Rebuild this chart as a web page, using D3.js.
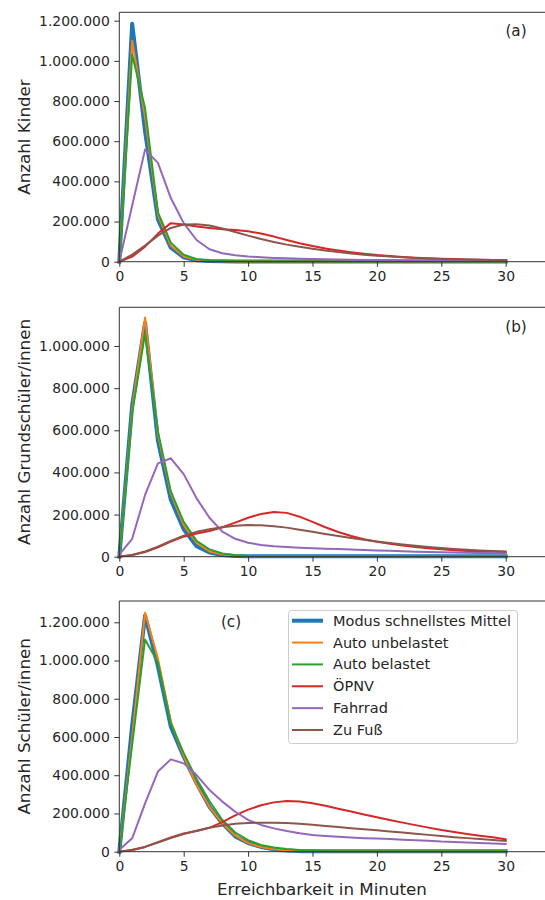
<!DOCTYPE html>
<html>
<head>
<meta charset="utf-8">
<script src="https://cdn.jsdelivr.net/npm/d3@7"></script>
<style>
  body { margin: 0; background: #fff; }
  svg { display: block; font-family: "DejaVu Sans", sans-serif; }
</style>
</head>
<body>
<svg id="chart" width="545" height="900"></svg>
<script>
// ---- Daten (Werte in Tausend)
const minutes = [0,1,2,3,4,5,6,7,8,9,10,11,12,13,14,15,16,17,18,19,20,21,22,23,24,25,26,27,28,29,30];
const seriesNames = ['Modus schnellstes Mittel', 'Auto unbelastet', 'Auto belastet', 'ÖPNV', 'Fahrrad', 'Zu Fuß'];
const seriesColors = ['#1f77b4', '#ff7f0e', '#2ca02c', '#d62728', '#9467bd', '#8c564b'];
const panelTags = ['(a)', '(b)', '(c)'];
const yLabels = ['Anzahl Kinder', 'Anzahl Grundschüler/innen', 'Anzahl Schüler/innen'];
const xTicks = [0, 5, 10, 15, 20, 25, 30];
const yTicksA = [0, 200000, 400000, 600000, 800000, 1000000, 1200000];
const yTicksB = [0, 200000, 400000, 600000, 800000, 1000000];
const yTicksC = [0, 200000, 400000, 600000, 800000, 1000000, 1200000];

// (a) Kinder
const modusA   = [0,1185,650,210,70,22,7,3,2,1,1,1,1,1,1,1,1,1,1,1,1,1,1,1,1,1,1,1,1,1,1];
const autoUnbA = [0,1100,720,232,80,26,9,4,2,1,1,1,1,1,1,1,1,1,1,1,1,1,1,1,1,1,1,1,1,1,1];
const autoBelA = [0,1030,765,245,95,35,12,5,3,2,1,1,1,1,1,1,1,1,1,1,1,1,1,1,1,1,1,1,1,1,1];
const oepnvA   = [0,25,75,140,192,185,175,168,162,158,152,140,125,108,92,78,66,56,47,40,33,28,24,20,17,15,13,11,10,9,8];
const fahrradA = [0,280,558,492,317,192,108,62,42,32,26,22,19,17,15,13,12,11,10,9,8,8,7,7,6,6,5,5,5,4,4];
const fussA    = [0,35,80,130,168,185,187,180,165,148,130,113,98,85,74,65,56,48,41,35,30,26,22,19,16,14,12,11,10,9,8];

// (b) Grundschüler/innen
const modusB   = [0,720,1110,550,270,130,50,20,8,3,2,2,2,2,2,2,2,2,2,2,2,2,2,2,2,2,2,2,2,2,2];
const autoUnbB = [0,700,1135,580,300,150,65,25,10,4,2,2,2,2,2,2,2,2,2,2,2,2,2,2,2,2,2,2,2,2,2];
const autoBelB = [0,680,1060,595,310,165,75,35,15,7,3,2,2,2,2,2,2,2,2,2,2,2,2,2,2,2,2,2,2,2,2];
const oepnvB   = [0,8,22,45,72,95,110,122,140,162,185,203,212,208,190,165,140,117,98,83,71,61,53,46,40,35,31,27,24,22,20];
const fahrradB = [10,85,293,443,467,392,277,185,119,85,66,56,50,46,43,40,38,36,34,32,30,28,26,24,22,21,20,19,18,17,16];
const fussB    = [0,8,25,48,75,100,118,130,140,147,150,149,145,138,128,118,108,98,89,80,72,65,58,52,46,41,37,33,30,27,25];

// (c) Schüler/innen
const modusC   = [0,660,1235,970,654,497,358,235,148,80,45,25,12,6,3,2,2,2,2,2,2,2,2,2,2,2,2,2,2,2,2];
const autoUnbC = [0,600,1250,1010,680,500,350,235,148,85,45,25,13,7,3,2,2,2,2,2,2,2,2,2,2,2,2,2,2,2,2];
const autoBelC = [0,560,1110,990,672,515,380,265,166,100,60,35,22,14,9,6,4,3,3,3,3,3,3,3,3,3,3,3,3,3,3];
const oepnvC   = [0,10,25,50,75,95,108,125,155,190,220,243,258,265,262,253,240,225,210,195,180,166,152,139,126,113,103,93,84,75,65];
const fahrradC = [10,70,253,419,483,462,401,323,262,209,166,140,122,108,96,87,82,78,74,71,69,66,63,60,57,53,51,48,46,43,41];
const fussC    = [0,8,25,48,72,93,110,125,137,146,150,152,152,150,146,141,135,129,123,117,112,106,100,94,88,82,76,71,66,61,56];

const panelData = [
  [modusA, autoUnbA, autoBelA, oepnvA, fahrradA, fussA],
  [modusB, autoUnbB, autoBelB, oepnvB, fahrradB, fussB],
  [modusC, autoUnbC, autoBelC, oepnvC, fahrradC, fussC]
];
const panelTicks = [yTicksA, yTicksB, yTicksC];

// ---- Layout
const xLeft = 119.3, x30 = 505.7, frameRight = 547;
const layout = [
  { top: 12.3,  bottom: 261.7, ymax: 1241800, tagX: 516, tagY: 31 },
  { top: 307.3, bottom: 556.7, ymax: 1183700, tagX: 516, tagY: 327 },
  { top: 601,   bottom: 851.7, ymax: 1311400, tagX: 231, tagY: 622 }
];
const textColor = '#262626';
const tickFont = 13.9, labelFont = 16.7, legendFont = 14.5, tagFont = 15.2;

const svg = d3.select('#chart');
const fmt = d => d3.format(',')(d).replace(/,/g, '.');

const x = d3.scaleLinear().domain([0, 30]).range([xLeft, x30]);

layout.forEach((p, i) => {
  const y = d3.scaleLinear().domain([0, p.ymax]).range([p.bottom, p.top]);
  const g = svg.append('g');

  // ---- Linien
  const line = d3.line()
    .x((d, k) => x(minutes[k]))
    .y(d => y(d * 1000));

  panelData[i].forEach((vals, s) => {
    g.append('path')
      .datum(vals)
      .attr('d', line)
      .attr('fill', 'none')
      .attr('stroke', seriesColors[s])
      .attr('stroke-width', s === 0 ? 4 : 2)
      .attr('stroke-linejoin', 'round')
      .attr('stroke-linecap', 'square');
  });

  // ---- Rahmen
  g.append('path')
    .attr('d', `M${frameRight},${p.top}H${xLeft}V${p.bottom}H${frameRight}`)
    .attr('fill', 'none')
    .attr('stroke', '#333')
    .attr('stroke-width', 1);

  // ---- Achsen
  const ax = g.append('g')
    .attr('transform', `translate(0,${p.bottom})`)
    .call(d3.axisBottom(x).tickValues(xTicks).tickSize(5).tickPadding(4.5));
  const ay = g.append('g')
    .attr('transform', `translate(${xLeft},0)`)
    .call(d3.axisLeft(y).tickValues(panelTicks[i]).tickFormat(fmt).tickSize(5).tickPadding(4.5));

  [ax, ay].forEach(a => {
    a.select('.domain').remove();
    a.selectAll('line').attr('stroke', '#333');
    a.selectAll('text')
      .attr('fill', textColor)
      .style('font-size', tickFont + 'px')
      .style('font-family', '"DejaVu Sans", sans-serif');
  });

  g.append('text')
    .attr('transform', `translate(24.5,${(p.top + p.bottom) / 2}) rotate(-90)`)
    .attr('text-anchor', 'middle')
    .attr('dy', '0.35em')
    .attr('fill', textColor)
    .style('font-size', labelFont + 'px')
    .text(yLabels[i]);

  g.append('text')
    .attr('x', p.tagX)
    .attr('y', p.tagY)
    .attr('text-anchor', 'middle')
    .attr('dy', '0.35em')
    .attr('fill', textColor)
    .style('font-size', tagFont + 'px')
    .text(panelTags[i]);
});

svg.append('text')
  .attr('x', 322)
  .attr('y', 889)
  .attr('text-anchor', 'middle')
  .attr('dy', '0.35em')
  .attr('fill', textColor)
  .style('font-size', labelFont + 'px')
  .text('Erreichbarkeit in Minuten');

// ---- Legende
const leg = svg.append('g');
leg.append('rect')
  .attr('x', 288.5).attr('y', 610.5)
  .attr('width', 229).attr('height', 133)
  .attr('rx', 3)
  .attr('fill', 'white').attr('fill-opacity', 0.8)
  .attr('stroke', '#ccc');

seriesNames.forEach((name, s) => {
  const cy = 620.7 + s * 21.86;
  leg.append('line')
    .attr('x1', 292).attr('x2', 323)
    .attr('y1', cy).attr('y2', cy)
    .attr('stroke', seriesColors[s])
    .attr('stroke-width', s === 0 ? 4 : 2);
  leg.append('text')
    .attr('x', 333)
    .attr('y', cy)
    .attr('dy', '0.35em')
    .attr('fill', textColor)
    .style('font-size', legendFont + 'px')
    .text(name);
});
</script>
</body>
</html>
